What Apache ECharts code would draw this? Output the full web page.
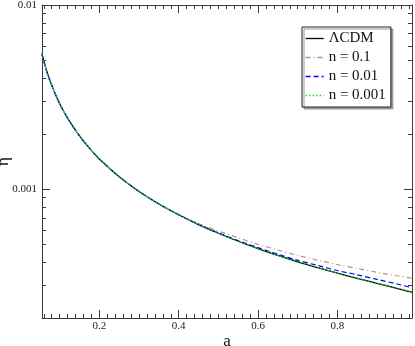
<!DOCTYPE html>
<html><head><meta charset="utf-8">
<script src="https://cdn.jsdelivr.net/npm/echarts@6/dist/echarts.min.js"></script>
<style>html,body{margin:0;padding:0;background:#fff}#c{width:415px;height:346px}</style>
</head><body><div id="c"></div>
<script>
// scale factor a
const aValues = [0.055, 0.07, 0.09, 0.11, 0.13, 0.15, 0.175, 0.2, 0.25, 0.3, 0.35, 0.4, 0.45, 0.5, 0.55, 0.6, 0.65, 0.7, 0.75, 0.8, 0.85, 0.9, 0.95, 0.988];
// eta values
const etaLCDM = [0.00545, 0.00420, 0.00325, 0.00265, 0.00225, 0.00195, 0.00167, 0.00146, 0.00117, 0.000973, 0.000832, 0.000727, 0.000643, 0.000577, 0.000522, 0.000476, 0.000437, 0.000403, 0.000375, 0.000350, 0.000328, 0.000308, 0.000290, 0.000276];
const etaN01 = [0.00545, 0.00420, 0.00325, 0.00265, 0.00225, 0.00195, 0.00167, 0.00146, 0.00117, 0.000973, 0.000833, 0.000731, 0.000652, 0.000593, 0.000545, 0.000502, 0.000468, 0.000437, 0.000412, 0.000390, 0.000371, 0.000354, 0.000339, 0.000329];
const etaN001 = [0.00545, 0.00420, 0.00325, 0.00265, 0.00225, 0.00195, 0.00167, 0.00146, 0.00117, 0.000973, 0.000832, 0.000727, 0.000644, 0.000580, 0.000526, 0.000482, 0.000444, 0.000411, 0.000386, 0.000362, 0.000343, 0.000324, 0.000306, 0.000292];
const etaN0001 = [0.00545, 0.00420, 0.00325, 0.00265, 0.00225, 0.00195, 0.00167, 0.00146, 0.00117, 0.000973, 0.000832, 0.000727, 0.000643, 0.000577, 0.000522, 0.000476, 0.000437, 0.000403, 0.000376, 0.000351, 0.000329, 0.000309, 0.000291, 0.000277];
const seriesNames = ['\u039BCDM', 'n = 0.1', 'n = 0.01', 'n = 0.001'];
// tick labels
const xTickLabels = [0.2, 0.4, 0.6, 0.8];
const yTickLabels = [0.001, 0.01];

const xMin = 0.0555, xMax = 0.988, yMin = 0.0002, yMax = 0.01;
const xMinor = [];
for (let k = 3; k <= 49; k++) xMinor.push(Math.round(k * 20) / 1000);
const yMinor = [];
[0.0001, 0.001].forEach(d => { for (let m = 2; m <= 9; m++) yMinor.push(+(m * d).toPrecision(3)); });

const AX = '#3a3a3a';
const serif = '"Liberation Serif","DejaVu Serif",serif';

function xAx(pos, ticks, len, main) {
  return {
    type: 'value', position: pos, min: xMin, max: xMax,
    axisLine: { show: main, onZero: false, lineStyle: { color: AX, width: 1 } },
    axisTick: { show: true, inside: true, length: len, customValues: ticks, lineStyle: { color: AX, width: 1 } },
    axisLabel: (main && pos === 'bottom') ? { show: true, customValues: xTickLabels, margin: 3, color: '#222', fontFamily: serif, fontSize: 11, formatter: v => String(+v.toFixed(2)) } : { show: false },
    splitLine: { show: false },
    name: (main && pos === 'bottom') ? 'a' : '', nameLocation: 'middle', nameGap: 15, nameMoveOverlap: false,
    nameTextStyle: { fontFamily: serif, fontSize: 17, color: '#111' }
  };
}
function yAx(pos, ticks, len, main) {
  return {
    type: 'log', logBase: 10, position: pos, min: yMin, max: yMax,
    axisLine: { show: main, onZero: false, lineStyle: { color: AX, width: 1 } },
    axisTick: { show: true, inside: true, length: len, customValues: ticks, lineStyle: { color: AX, width: 1 } },
    axisLabel: (main && pos === 'left') ? { show: true, customValues: yTickLabels, margin: 5, color: '#222', fontFamily: serif, fontSize: 11, formatter: v => String(+(+v).toPrecision(2)) } : { show: false },
    splitLine: { show: false }, minorTick: { show: false },
    name: (main && pos === 'left') ? '\u03B7' : '', nameLocation: 'middle', nameGap: 30, nameRotate: 90, nameMoveOverlap: false,
    nameTextStyle: { fontFamily: serif, fontSize: 17, color: '#111' }
  };
}

function mk(vals) { return aValues.map((a, i) => [a, vals[i]]); }

const chart = echarts.init(document.getElementById('c'), null, { renderer: 'canvas' });
chart.setOption({
  animation: false,
  backgroundColor: '#fff',
  grid: { left: 42, right: 3, top: 5, bottom: 28, containLabel: false, outerBoundsMode: 'none' },
  xAxis: [
    xAx('bottom', xTickLabels, 8, true),
    xAx('bottom', xMinor, 4, false),
    xAx('top', xTickLabels, 8, true),
    xAx('top', xMinor, 4, false)
  ],
  yAxis: [
    yAx('left', yTickLabels, 8, true),
    yAx('left', yMinor, 4, false),
    yAx('right', yTickLabels, 8, true),
    yAx('right', yMinor, 4, false)
  ],
  legend: {
    orient: 'vertical', left: 302, top: 27,
    padding: [4, 5, 4, 3], itemGap: 4, itemWidth: 18, itemHeight: 14,
    backgroundColor: '#fff', borderColor: '#222', borderWidth: 1, borderRadius: 0,
    shadowColor: '#999', shadowOffsetX: 2, shadowOffsetY: 2, shadowBlur: 0,
    itemStyle: { opacity: 0 },
    lineStyle: { width: 1.3 },
    textStyle: { fontFamily: serif, fontSize: 15, color: '#111', lineHeight: 14 },
    data: seriesNames
  },
  series: [
    { name: seriesNames[0], type: 'line', symbol: 'none', smooth: 0.3, data: mk(etaLCDM), lineStyle: { color: '#000', width: 1.3, type: 'solid' }, itemStyle: { color: '#000' } },
    { name: seriesNames[1], type: 'line', symbol: 'none', smooth: 0.3, data: mk(etaN01), lineStyle: { color: '#bc8f8f', width: 1.2, type: [5, 3, 1, 3] }, itemStyle: { color: '#bc8f8f' } },
    { name: seriesNames[2], type: 'line', symbol: 'none', smooth: 0.3, data: mk(etaN001), lineStyle: { color: '#0000ff', width: 1.2, type: [5, 3] }, itemStyle: { color: '#0000ff' } },
    { name: seriesNames[3], type: 'line', symbol: 'none', smooth: 0.3, data: mk(etaN0001), lineStyle: { color: '#00ee00', width: 1.2, type: [1.5, 2] }, itemStyle: { color: '#00ee00' } }
  ]
});
</script></body></html>
